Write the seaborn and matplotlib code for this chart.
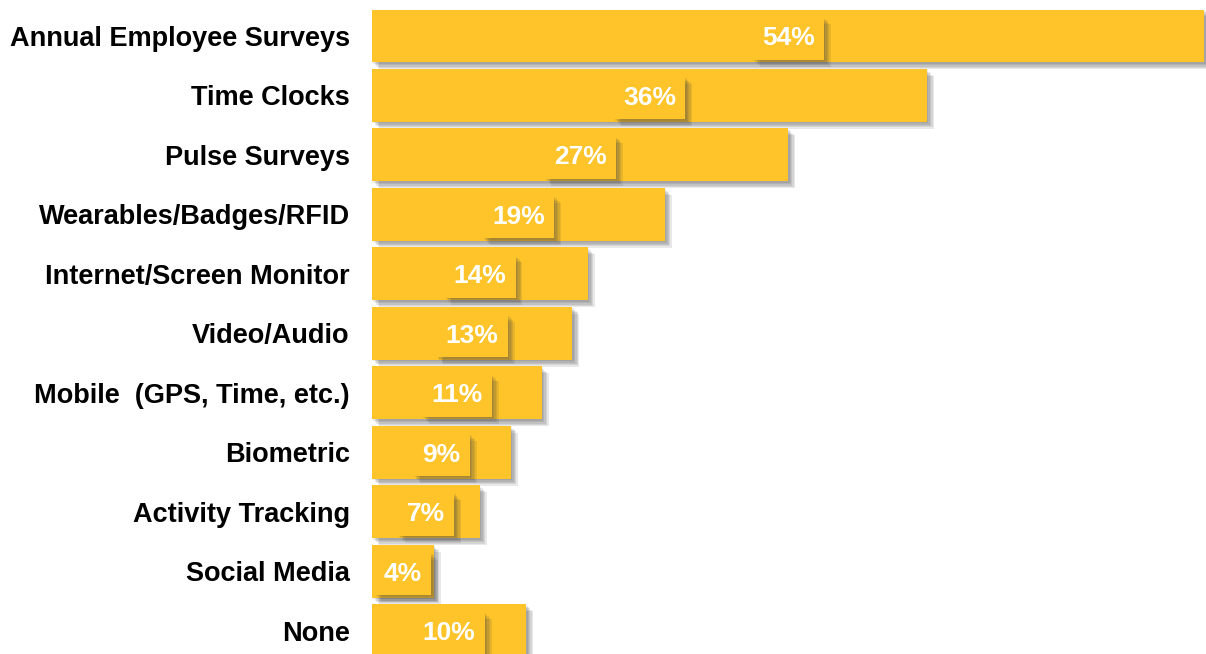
import matplotlib
matplotlib.use("Agg")
import matplotlib.pyplot as plt
import matplotlib.patheffects as pe
import seaborn as sns

categories = ["Annual Employee Surveys", "Time Clocks", "Pulse Surveys",
              "Wearables/Badges/RFID", "Internet/Screen Monitor", "Video/Audio",
              "Mobile  (GPS, Time, etc.)", "Biometric", "Activity Tracking",
              "Social Media", "None"]
values = [54, 36, 27, 19, 14, 13, 11, 9, 7, 4, 10]

yellow = "#FEC429"

sns.set_style("white")
plt.rcParams["font.family"] = ["Liberation Sans", "DejaVu Sans"]

fig = plt.figure(figsize=(12.06, 6.54), dpi=100)
ax = fig.add_axes([372 / 1206, 0, 1 - 372 / 1206, 1])

sns.barplot(x=values, y=categories, orient="h", color=yellow, saturation=1,
            width=0.89, linewidth=0, ax=ax)

# soft drop shadow built from a few offset layers
shadow = [pe.SimplePatchShadow(offset=(k, -k), shadow_rgbFace="#444444", alpha=0.12)
          for k in (1, 2, 3, 4, 5)] + [pe.Normal()]
for bar in ax.patches:
    bar.set_path_effects(shadow)

for i, v in enumerate(values):
    t = ax.text(v / 2, i, f"{v}%", ha="center", va="center_baseline", color="white",
                fontsize=19, fontweight="bold",
                bbox=dict(boxstyle="square,pad=0.35", facecolor=yellow, edgecolor="none"))
    t.get_bbox_patch().set_path_effects(shadow)

ax.set_xlim(0, 54.1)
ax.set_ylim(10.39, -0.605)
ax.set_xticks([])
ax.tick_params(axis="y", length=0, pad=16)
for lbl in ax.get_yticklabels():
    lbl.set_fontsize(19.5)
    lbl.set_fontweight("bold")
    lbl.set_color("black")
sns.despine(ax=ax, left=True, bottom=True)

fig.savefig("out.png", dpi=100)
